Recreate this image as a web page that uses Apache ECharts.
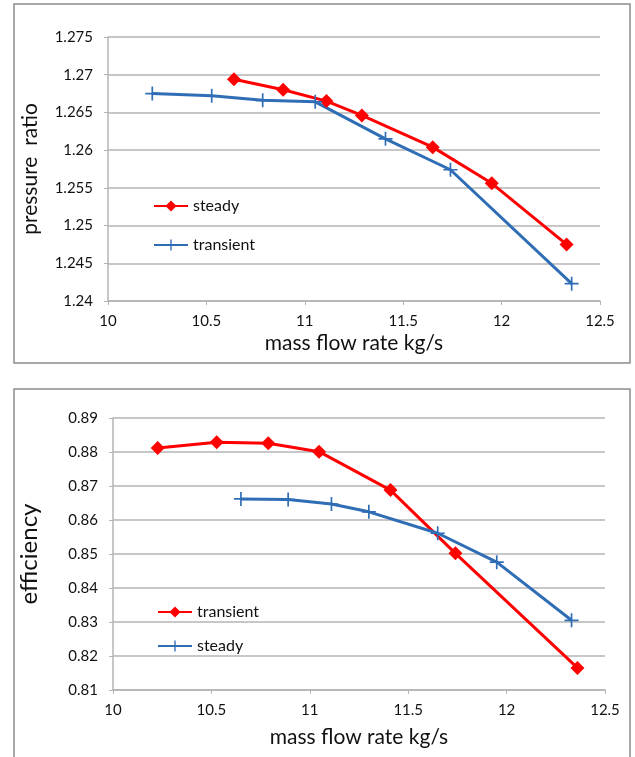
<!DOCTYPE html>
<html>
<head>
<meta charset="utf-8">
<script src="https://cdn.jsdelivr.net/npm/echarts@6/dist/echarts.min.js"></script>
<style>
  html, body { margin: 0; padding: 0; background: #fff; }
  #chart { width: 635px; height: 757px; }
</style>
</head>
<body>
<div id="chart"></div>
<script>
// top chart: pressure ratio
const prSteadyX = [10.64, 10.89, 11.11, 11.29, 11.65, 11.95, 12.33];
const prSteadyY = [1.2694, 1.2680, 1.2665, 1.2646, 1.2604, 1.2556, 1.2475];
const prTransX = [10.225, 10.527, 10.786, 11.053, 11.41, 11.74, 12.356];
const prTransY = [1.2675, 1.2672, 1.2666, 1.2664, 1.2615, 1.2574, 1.2423];

// bottom chart: efficiency
const effTransX = [10.227, 10.527, 10.789, 11.047, 11.41, 11.74, 12.36];
const effTransY = [0.8812, 0.8829, 0.8826, 0.8801, 0.8688, 0.8502, 0.8165];
const effSteadyX = [10.65, 10.89, 11.11, 11.30, 11.65, 11.95, 12.33];
const effSteadyY = [0.8662, 0.8660, 0.8647, 0.8624, 0.8561, 0.8476, 0.8305];

const xTitle = 'mass flow rate kg/s';

const pairs = (xs, ys) => xs.map((x, i) => [x, ys[i]]);

const RED = '#ff0000';
const BLUE = '#2f6db5';
const GRID = '#b4b4b4';
const FONT = 'Lato';
const plus = 'path://M4.4,0h1.2v4.4h4.4v1.2h-4.4v4.4h-1.2v-4.4h-4.4v-1.2h4.4z';

const chart = echarts.init(document.getElementById('chart'));

function xAxis(gridIndex, gap) {
  return {
    type: 'value', gridIndex, min: 10, max: 12.5, interval: 0.5,
    name: xTitle, nameLocation: 'middle', nameGap: gap,
    nameTextStyle: { fontFamily: FONT, fontSize: 21, color: '#111' },
    axisLine: { show: true, lineStyle: { color: GRID, width: 1.5 } },
    axisTick: { show: true, length: 4, lineStyle: { color: GRID } },
    axisLabel: { fontFamily: FONT, fontSize: 15, color: '#111', margin: 13 },
    splitLine: { show: false }
  };
}

function yAxis(gridIndex, min, max, step, name, gap, nameSize, dec) {
  return {
    type: 'value', gridIndex, min, max, interval: step,
    name, nameLocation: 'middle', nameGap: gap,
    nameTextStyle: { fontFamily: FONT, fontSize: nameSize, color: '#111' },
    axisLine: { show: true, lineStyle: { color: GRID, width: 1.5 } },
    axisTick: { show: true, length: 4, lineStyle: { color: GRID } },
    axisLabel: {
      fontFamily: FONT, fontSize: 15, color: '#111', margin: 15,
      formatter: v => String(+v.toFixed(dec))
    },
    splitLine: { show: true, lineStyle: { color: GRID, width: 1.5 } }
  };
}

function redLine(name, xi, data) {
  return {
    name, type: 'line', xAxisIndex: xi, yAxisIndex: xi, data,
    symbol: 'diamond', symbolSize: 14,
    lineStyle: { color: RED, width: 3 },
    itemStyle: { color: RED },
    animation: false
  };
}

function blueLine(name, xi, data) {
  return {
    name, type: 'line', xAxisIndex: xi, yAxisIndex: xi, data,
    symbol: plus, symbolSize: 14,
    lineStyle: { color: BLUE, width: 3 },
    itemStyle: { color: BLUE },
    animation: false
  };
}

const legendText = { fontFamily: FONT, fontSize: 16, color: '#111' };

chart.setOption({
  animation: false,
  graphic: [
    { type: 'rect', shape: { x: 14, y: 4, width: 616, height: 359 },
      style: { fill: 'none', stroke: '#8c8c8c', lineWidth: 1.5 }, z: -1 },
    { type: 'rect', shape: { x: 14, y: 389, width: 616, height: 380 },
      style: { fill: 'none', stroke: '#8c8c8c', lineWidth: 1.5 }, z: -1 }
  ],
  grid: [
    { left: 108, top: 37, width: 492, height: 264 },
    { left: 113, top: 418, width: 492, height: 272 }
  ],
  xAxis: [xAxis(0, 32), xAxis(1, 37)],
  yAxis: [
    yAxis(0, 1.24, 1.275, 0.005, 'pressure  ratio', 67, 21, 3),
    yAxis(1, 0.81, 0.89, 0.01, 'efficiency', 72, 24, 2)
  ],
  legend: [
    { data: ['steady', 'transient'], orient: 'vertical', left: 153, top: 198,
      padding: 0, itemWidth: 34, itemHeight: 14, itemGap: 23, textStyle: legendText },
    { data: ['transient ', 'steady '], orient: 'vertical', left: 157, top: 604,
      padding: 0, itemWidth: 34, itemHeight: 14, itemGap: 18, textStyle: legendText,
      formatter: n => n.trim() }
  ],
  series: [
    redLine('steady', 0, pairs(prSteadyX, prSteadyY)),
    blueLine('transient', 0, pairs(prTransX, prTransY)),
    redLine('transient ', 1, pairs(effTransX, effTransY)),
    blueLine('steady ', 1, pairs(effSteadyX, effSteadyY))
  ]
});
</script>
</body>
</html>
